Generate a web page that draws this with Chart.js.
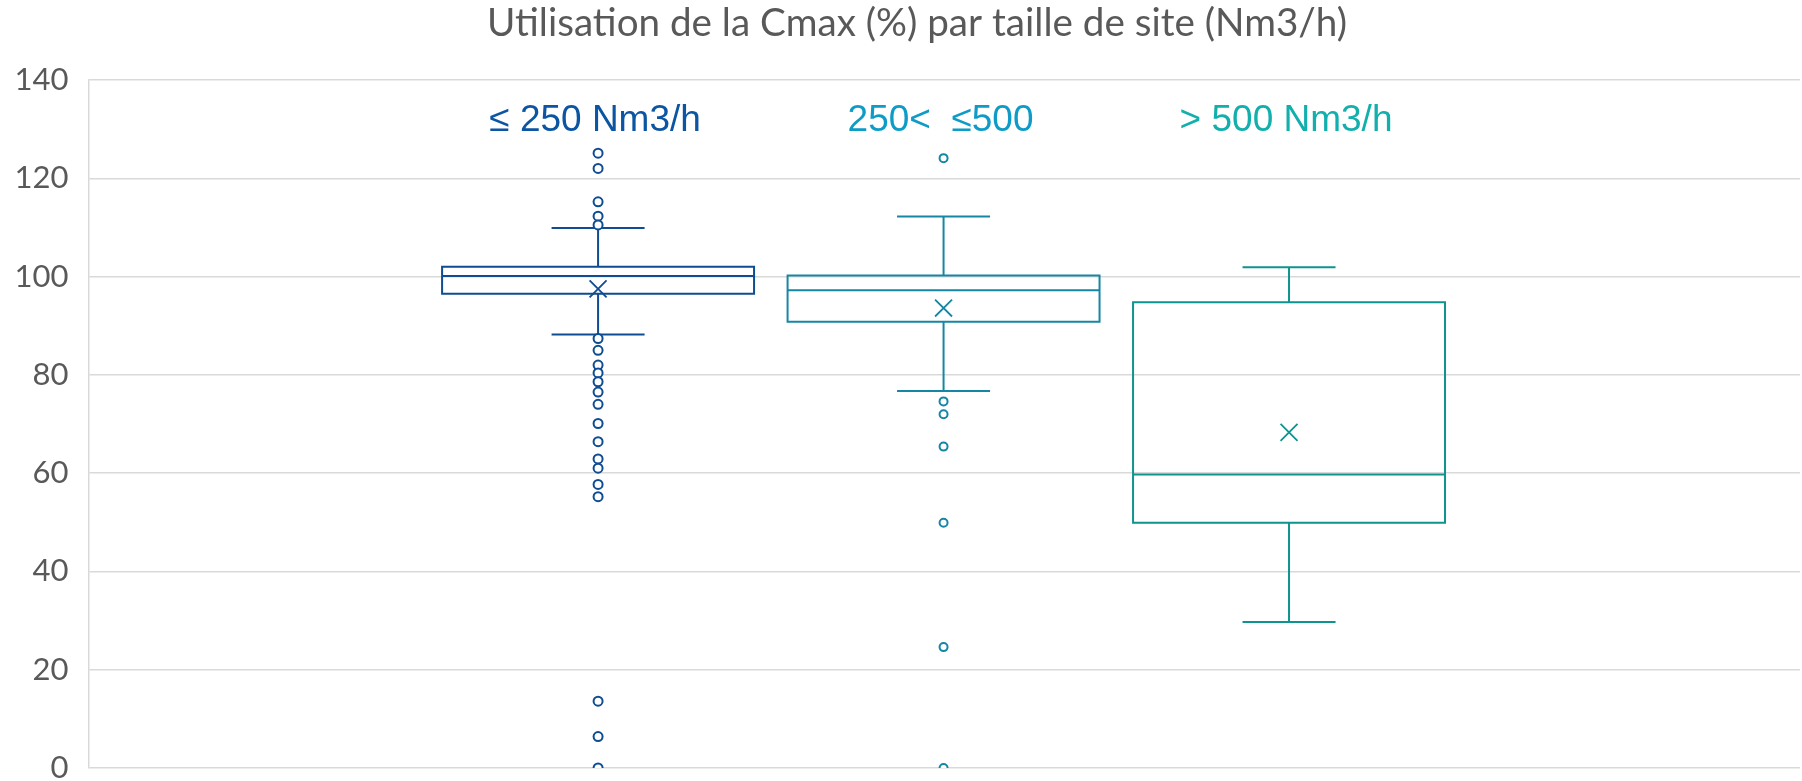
<!DOCTYPE html>
<html><head><meta charset="utf-8">
<script src="https://cdn.jsdelivr.net/npm/chart.js@4/dist/chart.umd.min.js"></script>
<style>html,body{margin:0;padding:0;background:#fff;overflow:hidden}#wrap{width:1802px;height:781px}</style>
</head><body><div id="wrap"><canvas id="c" width="1802" height="781"></canvas></div>
<script>
const chartTitle = 'Utilisation de la Cmax (%) par taille de site (Nm3/h)';
const categories = ['≤ 250 Nm3/h', '250<  ≤500', '> 500 Nm3/h'];
const minWhisker = [88.2, 76.7, 29.7];
const q1 = [96.5, 90.8, 49.9];
const medians = [100.1, 97.2, 59.7];
const q3 = [102.0, 100.2, 94.8];
const maxWhisker = [109.9, 112.2, 101.9];
const means = [97.5, 93.6, 68.3];
const outliersSmall = [125.1, 122.0, 115.2, 112.3, 110.5, 87.4, 85.0, 82.0, 80.4, 78.6, 76.5, 74.0, 70.1, 66.4, 62.9, 61.0, 57.7, 55.2, 13.6, 6.4, 0];
const outliersMid = [124.1, 74.6, 72.0, 65.4, 49.9, 24.6, 0];
const outliersLarge = [];
const yTicks = [0, 20, 40, 60, 80, 100, 120, 140];

const seriesColors = ['#0F4C92', '#1686A5', '#0F938F'];
const labelColors = ['#0B55A3', '#0E9CC7', '#12AFAD'];
const BOX_HALF = 0.4515, CAP_HALF = 0.1346;

const outlierSets = [outliersSmall, outliersMid, outliersLarge];
const datasets = outlierSets.map((arr, i) => ({
  label: categories[i],
  data: arr.map(v => ({x: i + 1, y: v})),
  pointStyle: 'circle',
  pointRadius: i === 0 ? 4.5 : 4,
  borderWidth: 2,
  borderColor: seriesColors[i],
  backgroundColor: '#ffffff'
}));
datasets.push({
  label: 'moyenne',
  data: means.map((v, i) => ({x: i + 1, y: v})),
  pointStyle: 'crossRot',
  pointRadius: 12,
  borderWidth: 1.8,
  borderColor: seriesColors,
  backgroundColor: seriesColors
});

const boxPlugin = {
  id: 'boxPlot',
  beforeDatasetsDraw(chart) {
    const {ctx, scales: {x, y}} = chart;
    ctx.save();
    ctx.lineWidth = 2;
    categories.forEach((c, i) => {
      const k = i + 1;
      const cx = x.getPixelForValue(k);
      const l = x.getPixelForValue(k - BOX_HALF), r = x.getPixelForValue(k + BOX_HALF);
      const cl = x.getPixelForValue(k - CAP_HALF), cr = x.getPixelForValue(k + CAP_HALF);
      const yq1 = y.getPixelForValue(q1[i]), yq3 = y.getPixelForValue(q3[i]);
      const ymed = y.getPixelForValue(medians[i]);
      const ymin = y.getPixelForValue(minWhisker[i]), ymax = y.getPixelForValue(maxWhisker[i]);
      ctx.strokeStyle = seriesColors[i];
      ctx.beginPath();
      ctx.rect(l, yq3, r - l, yq1 - yq3);
      ctx.moveTo(l, ymed); ctx.lineTo(r, ymed);
      ctx.moveTo(cx, yq3); ctx.lineTo(cx, ymax);
      ctx.moveTo(cl, ymax); ctx.lineTo(cr, ymax);
      ctx.moveTo(cx, yq1); ctx.lineTo(cx, ymin);
      ctx.moveTo(cl, ymin); ctx.lineTo(cr, ymin);
      ctx.stroke();
    });
    ctx.restore();
  },
  afterDraw(chart) {
    const {ctx, scales: {x}} = chart;
    ctx.save();
    ctx.font = '37px "Liberation Sans", Arial, sans-serif';
    ctx.textAlign = 'center';
    ctx.textBaseline = 'alphabetic';
    categories.forEach((c, i) => {
      ctx.fillStyle = labelColors[i];
      ctx.fillText(c, x.getPixelForValue(i + 1) - 3, 131);
    });
    ctx.font = '100px Lato, sans-serif';
    const w = ctx.measureText(chartTitle).width;
    const size = 100 * 860 / w;
    ctx.font = size.toFixed(2) + 'px Lato, sans-serif';
    ctx.fillStyle = '#595959';
    ctx.fillText(chartTitle, 917, 36);
    ctx.restore();
  }
};

new Chart(document.getElementById('c'), {
  type: 'scatter',
  data: {datasets},
  options: {
    responsive: false,
    animation: false,
    devicePixelRatio: 1,
    layout: {autoPadding: false, padding: {top: 80, left: 16, right: 2, bottom: 13}},
    plugins: {legend: {display: false}, tooltip: {enabled: false}, title: {display: false}},
    scales: {
      x: {type: 'linear', min: -0.475, max: 4.479, display: false},
      y: {
        type: 'linear', min: 0, max: 140,
        afterBuildTicks: s => { s.ticks = yTicks.map(v => ({value: v})); },
        afterFit: s => { s.width = 72.5; s.paddingTop = 0; s.paddingBottom = 0; },
        ticks: {color: '#595959', padding: 20, font: {family: 'Lato', size: 31, lineHeight: 1}},
        grid: {color: '#D9D9D9', lineWidth: 1.5, drawTicks: false},
        border: {display: true, color: '#D9D9D9', width: 1.5}
      }
    }
  },
  plugins: [boxPlugin]
});
</script></body></html>
